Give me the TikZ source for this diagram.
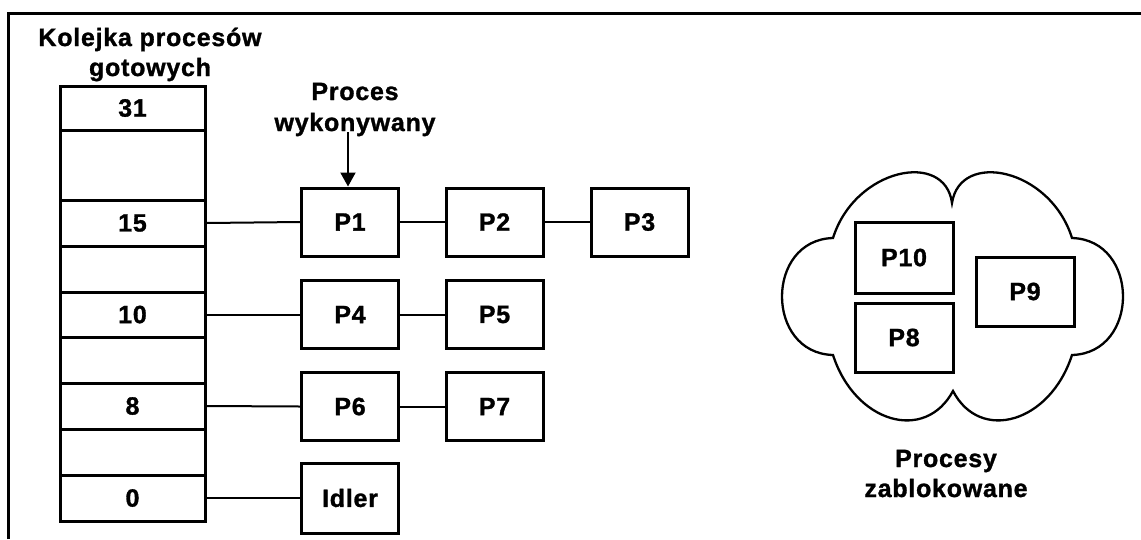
\documentclass[tikz,border=0pt]{standalone}
\usepackage{fontspec}
\setmainfont{Liberation Sans}[LetterSpace=3, BoldFeatures={FakeBold=1.2}]
\usetikzlibrary{arrows.meta}

\begin{document}
\begin{tikzpicture}[x=1pt,y=-1pt,
  every node/.style={font=\fontsize{25}{30}\selectfont\bfseries},
  cell/.style={draw, line width=3pt, minimum width=145pt, inner sep=0pt},
  proc/.style={draw, line width=3pt, minimum width=97pt, minimum height=68pt, inner sep=0pt},
  link/.style={line width=2pt},
  lbl/.style={anchor=base, inner sep=0pt}]

\useasboundingbox (0,0) rectangle (1141,539);

% frame
\draw[line width=3pt] (8,539) -- (8,13) -- (1141,13);

% ready queue (priority levels)
\node[cell, minimum height=44pt] (q31) at (132.5,108) {31};
\node[cell, minimum height=70pt] (qa)  at (132.5,165) {};
\node[cell, minimum height=46pt] (q15) at (132.5,223) {15};
\node[cell, minimum height=46pt] (qb)  at (132.5,269) {};
\node[cell, minimum height=45pt] (q10) at (132.5,314.5) {10};
\node[cell, minimum height=46pt] (qc)  at (132.5,360) {};
\node[cell, minimum height=46pt] (q8)  at (132.5,406) {8};
\node[cell, minimum height=46pt] (qd)  at (132.5,452) {};
\node[cell, minimum height=46pt] (q0)  at (132.5,498) {0};

\node[lbl] (tq1) at (150,46) {Kolejka procesów};
\node[lbl] (tq2) at (150,76) {gotowych};

% process lists
\node[proc] (p1) at (350,222) {P1};
\node[proc] (p2) at (494.5,222) {P2};
\node[proc] (p3) at (639.5,222) {P3};
\node[proc] (p4) at (350,314.5) {P4};
\node[proc] (p5) at (494.5,314.5) {P5};
\node[proc] (p6) at (350,406.5) {P6};
\node[proc] (p7) at (494.5,406.5) {P7};
\node[proc, minimum height=70pt] (idl) at (350,498) {Idler};

\draw[link] (q15.east) -- (p1.west);
\draw[link] (p1.east) -- (p2.west);
\draw[link] (p2.east) -- (p3.west);
\draw[link] (q10.east) -- (p4.west);
\draw[link] (p4.east) -- (p5.west);
\draw[link] (q8.east) -- (p6.west);
\draw[link] (p6.east) -- (p7.west);
\draw[link] (q0.east) -- (idl.west);

% running process
\node[lbl] (tr1) at (355,100) {Proces};
\node[lbl] (tr2) at (355,131) {wykonywany};
\coordinate (runtop) at (348,132);
\draw[link, -{Triangle[width=15pt,length=14pt]}] (runtop) -- (runtop |- p1.north);

% blocked processes
\draw[line width=2.3pt]
  (833,238) .. controls (855,168) and (945,150) .. (952,203)
  .. controls (960,150) and (1050,168) .. (1072,238)
  .. controls (1140,240) and (1140,353) .. (1072,355)
  .. controls (1050,423) and (980,443) .. (953,391)
  .. controls (925,443) and (855,423) .. (833,355)
  .. controls (765,353) and (765,240) .. cycle;

\node[proc, minimum width=98pt, minimum height=71pt] (p10) at (904,257.5) {P10};
\node[proc, minimum width=98pt, minimum height=69pt] (p8)  at (904,337.5) {P8};
\node[proc, minimum width=98pt, minimum height=69pt] (p9)  at (1025,291.5) {P9};

\node[lbl] (tb1) at (946,467) {Procesy};
\node[lbl] (tb2) at (946,497) {zablokowane};
\end{tikzpicture}
\end{document}
